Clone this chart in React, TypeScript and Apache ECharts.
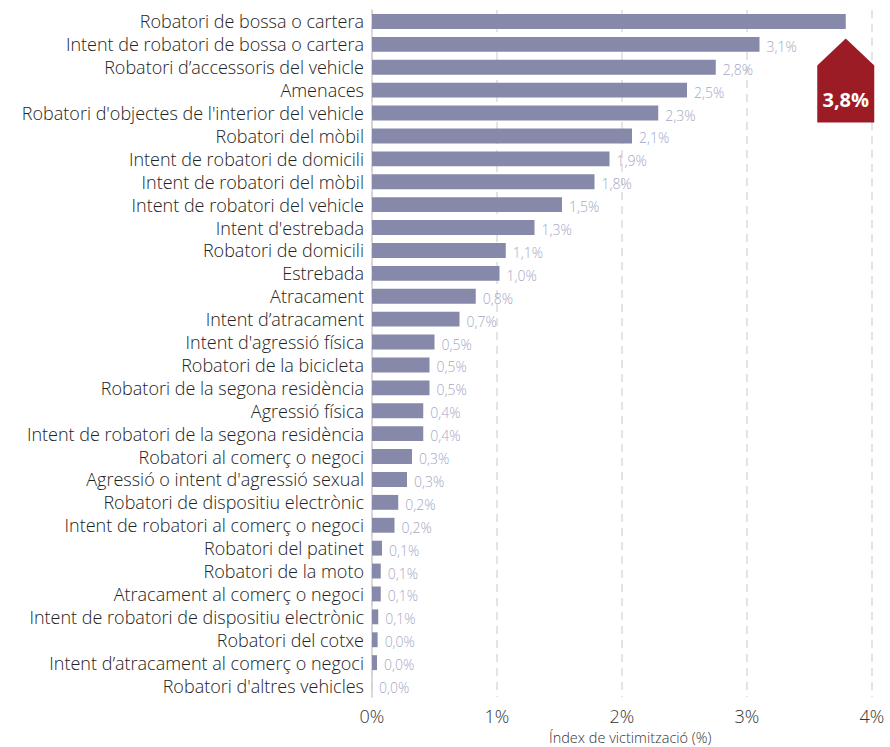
import React, { useEffect, useRef } from "react";
import * as echarts from "echarts";

const categories = [
  "Robatori de bossa o cartera",
  "Intent de robatori de bossa o cartera",
  "Robatori d’accessoris del vehicle",
  "Amenaces",
  "Robatori d'objectes de l'interior del vehicle",
  "Robatori del mòbil",
  "Intent de robatori de domicili",
  "Intent de robatori del mòbil",
  "Intent de robatori del vehicle",
  "Intent d'estrebada",
  "Robatori de domicili",
  "Estrebada",
  "Atracament",
  "Intent d’atracament",
  "Intent d'agressió física",
  "Robatori de la bicicleta",
  "Robatori de la segona residència",
  "Agressió física",
  "Intent de robatori de la segona residència",
  "Robatori al comerç o negoci",
  "Agressió o intent d'agressió sexual",
  "Robatori de dispositiu electrònic",
  "Intent de robatori al comerç o negoci",
  "Robatori del patinet",
  "Robatori de la moto",
  "Atracament al comerç o negoci",
  "Intent de robatori de dispositiu electrònic",
  "Robatori del cotxe",
  "Intent d’atracament al comerç o negoci",
  "Robatori d'altres vehicles",
];

const values = [
  3.79, 3.1, 2.75, 2.52, 2.29, 2.08, 1.9, 1.78, 1.52, 1.3, 1.07, 1.02, 0.83,
  0.7, 0.5, 0.46, 0.46, 0.41, 0.41, 0.32, 0.28, 0.21, 0.18, 0.08, 0.07, 0.07,
  0.05, 0.045, 0.04, 0.0,
];

const valueLabels = [
  "", "3,1%", "2,8%", "2,5%", "2,3%", "2,1%", "1,9%", "1,8%", "1,5%", "1,3%",
  "1,1%", "1,0%", "0,8%", "0,7%", "0,5%", "0,5%", "0,5%", "0,4%", "0,4%",
  "0,3%", "0,3%", "0,2%", "0,2%", "0,1%", "0,1%", "0,1%", "0,1%", "0,0%",
  "0,0%", "0,0%",
];

const highlightLabel = "3,8%";
const xTicks = [0, 1, 2, 3, 4];
const axisName = "Índex de victimització (%)";

const FONT = "'Open Sans', Roboto, sans-serif";

export default function App() {
  const ref = useRef<HTMLDivElement>(null);
  useEffect(() => {
    if (!ref.current) return;
    const chart = echarts.init(ref.current, undefined, { renderer: "svg" });
    chart.setOption({
      animation: false,
      textStyle: { fontFamily: FONT },
      grid: { left: 372, right: 18, top: 10, bottom: 50, containLabel: false },
      xAxis: {
        type: "value",
        min: xTicks[0],
        max: xTicks[xTicks.length - 1],
        interval: 1,
        axisLine: { show: false },
        axisTick: { show: false },
        axisLabel: {
          formatter: "{value}%",
          fontSize: 18,
          fontWeight: 300,
          color: "#333",
          margin: 10,
          fontFamily: FONT,
        },
        splitLine: {
          show: true,
          lineStyle: { color: "#dcdcdc", type: [8, 6], width: 1.5 },
        },
      },
      yAxis: {
        type: "category",
        data: categories,
        inverse: true,
        axisTick: { show: false },
        axisLine: { show: true, lineStyle: { color: "#cfcfcf", width: 1.5 } },
        axisLabel: {
          interval: 0,
          fontSize: 18,
          fontWeight: 300,
          color: "#222",
          margin: 8,
          fontFamily: FONT,
        },
      },
      series: [
        {
          type: "bar",
          data: values,
          barWidth: "65%",
          itemStyle: { color: "#8689a9" },
          label: {
            show: true,
            position: "right",
            distance: 7,
            offset: [0, 2],
            fontSize: 14,
            fontWeight: 300,
            color: "#a5a7c6",
            fontFamily: FONT,
            formatter: (p: any) => valueLabels[p.dataIndex],
          },
          markPoint: {
            silent: true,
            data: [
              {
                coord: [values[0], categories[0]],
                symbol: "path://M28.5 0 L57 27 L57 84 L0 84 L0 27 Z",
                symbolSize: [57, 84],
                symbolOffset: [0, 59],
                symbolKeepAspect: false,
                itemStyle: { color: "#9b1c25" },
                label: {
                  show: true,
                  position: "inside",
                  offset: [0, 19],
                  formatter: highlightLabel,
                  color: "#fff",
                  fontSize: 20,
                  fontWeight: "bold",
                  fontFamily: FONT,
                },
              },
            ],
          },
        },
      ],
      graphic: [
        {
          type: "text",
          left: 549,
          top: 730,
          style: {
            text: axisName,
            fontSize: 14.5,
            fontWeight: 300,
            fill: "#333",
            fontFamily: FONT,
          },
        },
      ],
    });
    return () => chart.dispose();
  }, []);
  return (
    <div
      ref={ref}
      style={{ position: "absolute", left: 0, top: 0, width: 890, height: 747 }}
    />
  );
}
